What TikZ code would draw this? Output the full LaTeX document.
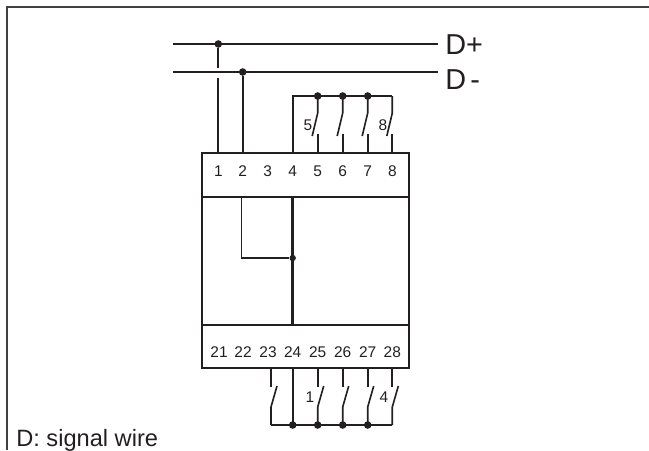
\documentclass[tikz,border=0pt]{standalone}
\usepackage{fontspec}
\setmainfont{Liberation Sans}
\usepackage{tikz}
\usetikzlibrary{shapes, arrows}
\definecolor{ink}{HTML}{231F20}
\tikzset{
	wire/.style={draw=ink, line width=1.4pt},
	thin wire/.style={draw=ink, line width=1.15pt},
	block/.style={rectangle, draw=ink, line width=2pt, outer sep=0pt, inner sep=0pt, minimum width=5.175cm},
	term/.style={inner sep=0pt, text=ink, font=\fontsize{11}{12}\selectfont},
	bus label/.style={anchor=base west, inner sep=0pt, text=ink, font=\fontsize{20.5}{24}\selectfont},
	dot/.style={circle, fill=ink, inner sep=0pt, minimum size=0.19cm}
}

\begin{document}
\begin{tikzpicture}[x=0.025cm, y=-0.025cm]
		\useasboundingbox (0,0) rectangle (649,450);
		% outer frame
		\coordinate (F1) at (7,450);
		\coordinate (F2) at (7,6.7);
		\coordinate (F3) at (649,6.7);
		\draw[draw=black!75, line width=1.4pt] (F1) -- (F2) -- (F3);
		\node at (16,446) [anchor=base west, inner sep=0pt, text=ink, font=\fontsize{16.8}{20}\selectfont] (NOTE) {D: signal wire};
		% device
		\node at (305.5,175) [block, minimum height=1.1cm] (TOP) {};
		\node at (305.5,261) [block, minimum height=3.2cm] (MID) {};
		\node at (305.5,346.5) [block, minimum height=1.075cm] (BOT) {};
		% upper terminals
		\foreach \n/\x in {1/218.3, 2/242.7, 3/267.7, 4/292.7, 5/317.7, 6/342.7, 7/367.7, 8/392.3} {
			\node at (\x,171) [term] (T\n) {\n};
			\coordinate (A\n) at (\x,153);
			\coordinate (B\n) at (\x,96);
		}
		% lower terminals
		\foreach \n/\x in {21/219, 22/243, 23/268, 24/292.7, 25/317.7, 26/342.7, 27/367.7, 28/392.3} {
			\node at (\x,352.5) [term] (T\n) {\n};
			\coordinate (A\n) at (\x,368);
			\coordinate (B\n) at (\x,425);
		}
		\coordinate (A23) at (271,368);
		\coordinate (B23) at (271,425);
		% bus wires
		\coordinate (L1) at (173,44);
		\coordinate (R1) at (438,44);
		\coordinate (L2) at (173,72);
		\coordinate (R2) at (438,72);
		\draw[wire] (L1) -- (R1);
		\draw[wire] (L2) -- (R2);
		\node at (445,54) [bus label] (DP) {D+};
		\node at (445,89) [bus label] (DM) {D\kern3pt-};
		\node at (218.3,44) [dot] (J1) {};
		\node at (242.7,72) [dot] (J2) {};
		\coordinate (G1) at (218.3,68);
		\coordinate (G2) at (218.3,78);
		\draw[wire] (J1) -- (G1);
		\draw[wire] (G2) -- (A1);
		\draw[wire] (J2) -- (A2);
		% upper switches
		\draw[thin wire] (A4) -- (B4) -- (B8);
		\foreach \n in {5,6,7} {
			\node at (B\n) [dot] (U\n) {};
		}
		\foreach \n in {5,6,7,8} {
			\draw[thin wire] (B\n) -- ++(0,17) -- ++(-5.5,23);
			\draw[thin wire] (A\n) -- ++(0,-19);
		}
		\node at (308,125) [term] (S5) {5};
		\node at (383,125) [term] (S8) {8};
		% inner wiring
		\coordinate (W1) at (241.5,197);
		\coordinate (W2) at (241.5,258);
		\node at (292.7,258) [dot, minimum size=0.16cm] (J3) {};
		\coordinate (W3) at (292.7,197);
		\coordinate (W4) at (292.7,325);
		\draw[thin wire] (W1) -- (W2) -- (J3);
		\draw[draw=ink, line width=1.9pt] (W3) -- (W4);
		% lower switches
		\draw[thin wire] (A24) -- (B24);
		\draw[thin wire] (B23) -- (B28);
		\foreach \n in {24,25,26,27} {
			\node at (B\n) [dot] (V\n) {};
		}
		\foreach \n in {23,25,26,27,28} {
			\draw[thin wire] (A\n) -- ++(0,19);
			\draw[thin wire] (B\n) -- ++(0,-18) -- ++(6,-21);
		}
		\node at (310,397) [term] (S1) {1};
		\node at (384,397) [term] (S4) {4};
		\end{tikzpicture}
\end{document}
